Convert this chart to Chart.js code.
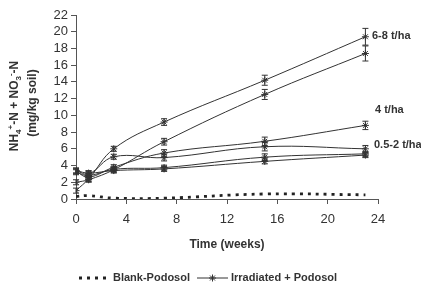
<!DOCTYPE html>
<html>
<head>
<meta charset="utf-8">
<script src="https://cdn.jsdelivr.net/npm/chart.js@4.4.0/dist/chart.umd.min.js"></script>
<style>
  html, body { margin: 0; padding: 0; background: #fff; }
</style>
</head>
<body>
<canvas id="chart" width="421" height="285"></canvas>
<script>
// sampling times (weeks)
const weeks = [0, 1, 3, 7, 15, 23];
// blank podosol (no amendment)
const blankPodosol = [0.3, 0.4, 0.1, 0.1, 0.6, 0.5];
// irradiated + podosol, one series per application rate
const rate8 = [1.0, 2.4, 6.0, 9.2, 14.2, 19.4];
const rate6 = [2.0, 2.3, 3.5, 6.85, 12.5, 17.4];
const rate4 = [3.3, 2.6, 3.8, 5.5, 6.9, 8.8];
const rate2 = [3.4, 3.0, 5.05, 4.95, 6.25, 6.0];
const rate1 = [3.2, 2.8, 3.55, 3.75, 5.0, 5.4];
const rate05 = [3.4, 3.1, 3.4, 3.6, 4.5, 5.25];
// standard errors
const err8 = [0.3, 0.3, 0.3, 0.4, 0.6, 1.0];
const err6 = [0.3, 0.3, 0.3, 0.4, 0.6, 0.9];
const err4 = [0.3, 0.3, 0.3, 0.4, 0.5, 0.5];
const err2 = [0.3, 0.3, 0.3, 0.4, 0.5, 0.4];
const err1 = [0.3, 0.3, 0.3, 0.3, 0.4, 0.3];
const err05 = [0.3, 0.3, 0.3, 0.3, 0.3, 0.3];
const yTicks = [0, 2, 4, 6, 8, 10, 12, 14, 16, 18, 20, 22];
const xTicks = [0, 4, 8, 12, 16, 20, 24];

const ink = '#333';
const FONT = '"Liberation Sans", Arial, sans-serif';

const toPoints = (vals) => weeks.map((w, i) => ({ x: w, y: vals[i] }));

const irradiatedSeries = [
  [rate8, err8], [rate6, err6], [rate4, err4],
  [rate2, err2], [rate1, err1], [rate05, err05]
];

const datasets = [{
  label: 'Blank-Podosol',
  data: toPoints(blankPodosol),
  borderColor: '#222',
  borderWidth: 2.8,
  borderDash: [3, 5],
  pointRadius: 0,
  tension: 0.4,
  fill: false
}];
irradiatedSeries.forEach(([vals, errs]) => {
  datasets.push({
    label: 'Irradiated + Podosol',
    data: toPoints(vals),
    errors: errs,
    borderColor: ink,
    borderWidth: 1,
    pointStyle: 'star',
    pointRadius: 3.5,
    pointBorderColor: ink,
    pointBorderWidth: 1,
    pointBackgroundColor: ink,
    tension: 0.4,
    fill: false
  });
});

const drawStar = (ctx, x, y, r) => {
  ctx.beginPath();
  for (let k = 0; k < 4; k++) {
    const a = k * Math.PI / 4;
    ctx.moveTo(x - r * Math.cos(a), y - r * Math.sin(a));
    ctx.lineTo(x + r * Math.cos(a), y + r * Math.sin(a));
  }
  ctx.stroke();
};

// error bars, axis titles, legend and the rate labels
const decor = {
  id: 'decor',
  afterDatasetsDraw(chart) {
    const ctx = chart.ctx;
    const xs = chart.scales.x, ys = chart.scales.y;
    ctx.save();
    ctx.strokeStyle = ink;
    ctx.lineWidth = 1;
    chart.data.datasets.forEach((ds) => {
      if (!ds.errors) return;
      ds.data.forEach((p, i) => {
        const px = xs.getPixelForValue(p.x);
        const top = ys.getPixelForValue(p.y + ds.errors[i]);
        const bot = ys.getPixelForValue(p.y - ds.errors[i]);
        ctx.beginPath();
        ctx.moveTo(px, top); ctx.lineTo(px, bot);
        ctx.moveTo(px - 3, top); ctx.lineTo(px + 3, top);
        ctx.moveTo(px - 3, bot); ctx.lineTo(px + 3, bot);
        ctx.stroke();
      });
    });
    ctx.restore();
  },
  afterDraw(chart) {
    const ctx = chart.ctx;
    const xs = chart.scales.x;
    ctx.save();
    ctx.fillStyle = ink;
    ctx.textBaseline = 'middle';

    // rate labels
    ctx.font = 'bold 11px ' + FONT;
    ctx.textAlign = 'left';
    ctx.fillText('6-8 t/ha', 372, 36);
    ctx.fillText('4 t/ha', 375, 110);
    ctx.fillText('0.5-2 t/ha', 374, 145);

    // x title
    ctx.textAlign = 'center';
    ctx.font = 'bold 12px ' + FONT;
    ctx.fillText('Time (weeks)', (xs.left + xs.right) / 2, 245);

    // y title, two rotated lines
    const main = 'bold 12px ' + FONT, small = 'bold 8px ' + FONT;
    const segs = [
      ['NH', main, 0], ['4', small, 3], ['+', small, -5], ['-N + NO', main, 0],
      ['3', small, 3], ['-', small, -5], ['-N', main, 0]
    ];
    ctx.save();
    ctx.translate(14, 106);
    ctx.rotate(-Math.PI / 2);
    ctx.textAlign = 'left';
    ctx.textBaseline = 'alphabetic';
    let total = 0;
    segs.forEach(([t, f]) => { ctx.font = f; total += ctx.measureText(t).width; });
    let cx = -total / 2;
    segs.forEach(([t, f, dy]) => {
      ctx.font = f;
      ctx.fillText(t, cx, 4 + dy);
      cx += ctx.measureText(t).width;
    });
    ctx.font = main;
    ctx.textAlign = 'center';
    ctx.fillText('(mg/kg soil)', 3, 4 + 18);
    ctx.restore();

    // legend
    const ly = 278;
    ctx.strokeStyle = '#222';
    ctx.lineWidth = 2.8;
    ctx.setLineDash([3, 5]);
    ctx.beginPath(); ctx.moveTo(79, ly); ctx.lineTo(107, ly); ctx.stroke();
    ctx.setLineDash([]);
    ctx.strokeStyle = ink;
    ctx.lineWidth = 1;
    ctx.beginPath(); ctx.moveTo(197, ly); ctx.lineTo(228, ly); ctx.stroke();
    drawStar(ctx, 212.5, ly, 3.5);
    ctx.font = 'bold 11px ' + FONT;
    ctx.textAlign = 'left';
    ctx.textBaseline = 'middle';
    ctx.fillText('Blank-Podosol', 113, ly);
    ctx.fillText('Irradiated + Podosol', 231, ly);
    ctx.restore();
  }
};

new Chart(document.getElementById('chart').getContext('2d'), {
  type: 'line',
  data: { datasets: datasets },
  options: {
    responsive: false,
    animation: false,
    devicePixelRatio: 1,
    layout: { padding: { top: 15, right: 43, left: 0, bottom: 0 } },
    plugins: { legend: { display: false }, tooltip: { enabled: false } },
    scales: {
      x: {
        type: 'linear',
        min: 0, max: 24,
        afterFit: (s) => { s.height = 86; },
        afterBuildTicks: (s) => { s.ticks = xTicks.map(v => ({ value: v })); },
        grid: { drawOnChartArea: false, drawTicks: true, tickLength: 5, color: '#555' },
        border: { color: '#555', width: 1 },
        ticks: { color: ink, padding: 8, maxRotation: 0, autoSkip: false, font: { family: FONT, size: 13 } }
      },
      y: {
        min: 0, max: 22,
        afterFit: (s) => { s.width = 76; },
        afterBuildTicks: (s) => { s.ticks = yTicks.map(v => ({ value: v })); },
        grid: { drawOnChartArea: false, drawTicks: true, tickLength: 5, color: '#555' },
        border: { color: '#555', width: 1 },
        ticks: { color: ink, padding: 3, autoSkip: false, font: { family: FONT, size: 13 } }
      }
    }
  },
  plugins: [decor]
});
</script>
</body>
</html>
